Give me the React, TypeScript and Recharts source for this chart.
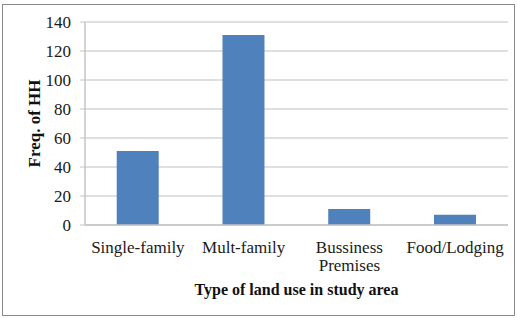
import { BarChart, Bar, XAxis, YAxis, CartesianGrid } from "recharts"

const categories = ["Single-family", "Mult-family", "Bussiness Premises", "Food/Lodging"]
const households = [51, 131, 11, 7]
const yTicks = [0, 20, 40, 60, 80, 100, 120, 140]

const data = categories.map((name, i) => ({ name, hh: households[i] }))

const FONT = "'Liberation Serif', 'Times New Roman', serif"

function CategoryTick(props: any) {
    const { x, y, payload } = props
    const lines = String(payload.value).split(" ")
    return (
        <text x={x} y={y} textAnchor="middle" fontFamily={FONT} fontSize={17} fill="#1a1a1a">
            {lines.map((line: string, i: number) => (
                <tspan key={i} x={x} dy={i === 0 ? 20 : 18}>
                    {line}
                </tspan>
            ))}
        </text>
    )
}

export default function App() {
    return (
        <div style={{ position: "absolute", left: 0, top: 0, width: 517, height: 318, background: "#fff" }}>
            <div
                style={{
                    position: "absolute",
                    left: 2,
                    top: 4,
                    width: 513,
                    height: 312,
                    border: "1.5px solid #8a8a8a",
                    boxSizing: "border-box",
                }}
            />
            <div style={{ position: "absolute", left: 0, top: 0 }}>
                <BarChart
                    width={517}
                    height={318}
                    data={data}
                    margin={{ top: 22, right: 9, left: 0, bottom: 0 }}
                    barCategoryGap="30%"
                >
                    <CartesianGrid vertical={false} stroke="#d4d4d4" strokeWidth={1.5} />
                    <XAxis
                        dataKey="name"
                        height={93}
                        interval={0}
                        tick={<CategoryTick />}
                        tickLine={false}
                        axisLine={{ stroke: "#c4c4c4", strokeWidth: 1.5 }}
                        label={{
                            value: "Type of land use in study area",
                            position: "insideBottom",
                            offset: 23,
                            style: { fontFamily: FONT, fontSize: 16, fontWeight: "bold", fill: "#111" },
                        }}
                    />
                    <YAxis
                        width={85}
                        domain={[0, 140]}
                        ticks={yTicks}
                        interval={0}
                        tickSize={5}
                        tickMargin={9}
                        tickLine={{ stroke: "#c4c4c4" }}
                        axisLine={{ stroke: "#c4c4c4", strokeWidth: 1.5 }}
                        tick={{ fontFamily: FONT, fontSize: 17, fill: "#1a1a1a" }}
                        label={{
                            value: "Freq. of HH",
                            angle: -90,
                            position: "insideLeft",
                            offset: 34,
                            style: { fontFamily: FONT, fontSize: 17, fontWeight: "bold", fill: "#111", textAnchor: "middle" },
                        }}
                    />
                    <Bar dataKey="hh" fill="#4f81bd" isAnimationActive={false} />
                </BarChart>
            </div>
        </div>
    )
}
